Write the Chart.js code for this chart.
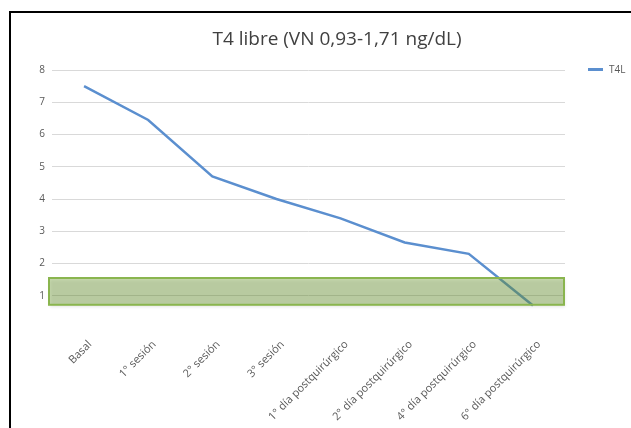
<!DOCTYPE html>
<html>
<head>
<meta charset="utf-8">
<script src="https://cdn.jsdelivr.net/npm/chart.js@4.4.0/dist/chart.umd.min.js"></script>
<style>
  html, body { margin: 0; padding: 0; background: #fff; overflow: hidden; }
  #frame { position: absolute; left: 9px; top: 11px; width: 700px; height: 500px; border: 2px solid #000; }
  #wrap { position: absolute; left: 0; top: 0; width: 631px; height: 428px; }
</style>
</head>
<body>
<div id="frame"></div>
<div id="wrap"><canvas id="chart" width="631" height="428"></canvas></div>
<script>
const categories = ["Basal", "1° sesión", "2° sesión", "3° sesión", "1° día postquirúrgico", "2° día postquirúrgico", "4° día postquirúrgico", "6° día postquirúrgico"];
const t4lValues = [7.5, 6.45, 4.7, 4.0, 3.4, 2.65, 2.3, 0.7];
const yTicks = [1, 2, 3, 4, 5, 6, 7, 8];
// normal range box as drawn on the picture
const normalBand = [0.72, 1.55];
const titleText = "T4 libre (VN 0,93-1,71 ng/dL)";
const seriesName = "T4L";

const lineColor = "#5b8fcf";
const textColor = "#595959";
const fontFamily = "'Open Sans', 'Noto Sans', sans-serif";

// green box over the range, plus title and legend
const extrasPlugin = {
  id: "extras",
  afterDatasetsDraw(chart) {
    const ctx = chart.ctx;
    const area = chart.chartArea;
    const y = chart.scales.y;
    const top = y.getPixelForValue(normalBand[1]);
    const bottom = y.getPixelForValue(normalBand[0]);
    const left = area.left - 3;
    const right = area.right - 1;
    ctx.save();
    ctx.shadowColor = "rgba(0,0,0,0.25)";
    ctx.shadowBlur = 3;
    ctx.shadowOffsetX = 1;
    ctx.shadowOffsetY = 2;
    ctx.fillStyle = "rgba(115,160,55,0.4)";
    ctx.fillRect(left, top, right - left, bottom - top);
    ctx.shadowColor = "transparent";
    ctx.strokeStyle = "#8ab54e";
    ctx.lineWidth = 2;
    ctx.strokeRect(left, top, right - left, bottom - top);
    ctx.restore();
  },
  afterDraw(chart) {
    const ctx = chart.ctx;
    ctx.save();
    ctx.fillStyle = "#404040";
    ctx.font = "19px " + fontFamily;
    ctx.textAlign = "center";
    ctx.textBaseline = "middle";
    ctx.fillText(titleText, 337, 40);

    ctx.strokeStyle = lineColor;
    ctx.lineWidth = 3;
    ctx.beginPath();
    ctx.moveTo(588, 69.5);
    ctx.lineTo(603, 69.5);
    ctx.stroke();
    ctx.fillStyle = textColor;
    ctx.font = "10px " + fontFamily;
    ctx.textAlign = "left";
    ctx.fillText(seriesName, 609, 70);
    ctx.restore();
  }
};

new Chart(document.getElementById("chart"), {
  type: "line",
  data: {
    labels: categories,
    datasets: [{
      label: seriesName,
      data: t4lValues,
      borderColor: lineColor,
      borderWidth: 2.5,
      pointRadius: 0,
      tension: 0,
      fill: false
    }]
  },
  options: {
    responsive: false,
    animation: false,
    layout: { padding: { top: 70, right: 66, left: 0, bottom: 0 } },
    plugins: {
      legend: { display: false },
      title: { display: false },
      tooltip: { enabled: false }
    },
    scales: {
      x: {
        offset: true,
        afterFit: function (s) { s.height = 100; },
        grid: { display: false },
        border: { display: false },
        ticks: {
          color: textColor,
          font: { size: 11, family: fontFamily },
          minRotation: 45,
          maxRotation: 45,
          autoSkip: false,
          labelOffset: 6,
          padding: 2
        }
      },
      y: {
        min: 0,
        max: 8,
        afterFit: function (s) { s.width = 52; },
        afterBuildTicks: function (s) { s.ticks = yTicks.map(v => ({ value: v })); },
        grid: { color: "#d9d9d9", lineWidth: 1, drawTicks: false },
        border: { display: false },
        ticks: {
          color: textColor,
          font: { size: 10, family: fontFamily },
          padding: 7
        }
      }
    }
  },
  plugins: [extrasPlugin]
});
</script>
</body>
</html>
